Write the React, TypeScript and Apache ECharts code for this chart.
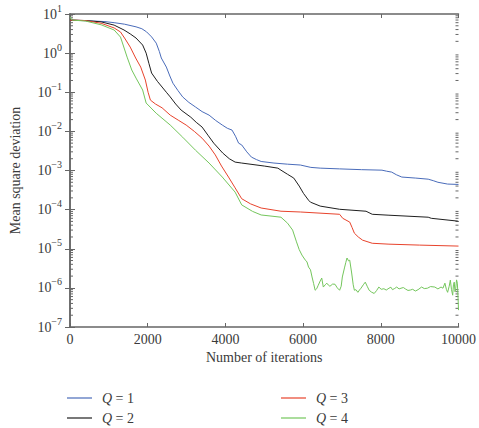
import React, { useEffect, useRef } from "react";
import * as echarts from "echarts";

// Iteration counts and mean square deviation for each Q
const iterQ1 = [0, 300, 600, 900, 1136, 1400, 1700, 1850, 1970, 2100, 2220, 2300, 2350, 2480, 2570, 2650, 2780, 2900, 3060, 3230, 3400, 3580, 3750, 3920, 4050, 4170, 4260, 4340, 4420, 4550, 4670, 4800, 4920, 5250, 5600, 5930, 6200, 6440, 6940, 7500, 8030, 8150, 8280, 8400, 8540, 8900, 9220, 9350, 9470, 9720, 10000];
const msdQ1 = [7.0, 6.8, 6.6, 6.4, 6.0, 5.5, 4.7, 4.2, 3.5, 2.6, 1.8, 1.1, 0.75, 0.44, 0.26, 0.17, 0.11, 0.076, 0.055, 0.042, 0.032, 0.026, 0.019, 0.0145, 0.012, 0.0108, 0.0075, 0.005, 0.0045, 0.003, 0.0022, 0.0019, 0.0017, 0.00155, 0.00145, 0.00138, 0.0012, 0.00115, 0.0011, 0.00105, 0.00102, 0.00096, 0.00091, 0.00078, 0.00068, 0.00064, 0.0006, 0.00055, 0.0005, 0.00045, 0.00044];

const iterQ2 = [0, 400, 800, 1136, 1390, 1550, 1700, 1870, 1960, 2030, 2100, 2250, 2370, 2480, 2580, 2720, 2860, 3110, 3250, 3400, 3550, 3700, 3930, 4100, 4250, 4420, 5000, 5350, 5430, 5600, 5760, 5900, 6010, 6140, 6190, 6440, 6940, 7620, 7780, 8210, 9220, 9300, 9970, 10000];
const msdQ2 = [7.0, 6.8, 6.3, 5.2, 3.9, 3.1, 2.43, 1.61, 1.0, 0.55, 0.31, 0.19, 0.136, 0.1, 0.076, 0.05, 0.035, 0.023, 0.017, 0.0129, 0.008, 0.005, 0.0028, 0.002, 0.00164, 0.00155, 0.0013, 0.00115, 0.00102, 0.0008, 0.00064, 0.0004, 0.00026, 0.000174, 0.000155, 0.000123, 0.000102, 0.000091, 0.000076, 0.000072, 0.000064, 0.00006, 0.000051, 0.00005];

const iterQ3 = [0, 400, 800, 1136, 1300, 1420, 1550, 1690, 1820, 1940, 2010, 2070, 2200, 2370, 2580, 2800, 2990, 3200, 3400, 3580, 3740, 3900, 4080, 4250, 4420, 4650, 4920, 5430, 5930, 6940, 7020, 7200, 7260, 7320, 7420, 7530, 7780, 8210, 9000, 10000];
const msdQ3 = [7.0, 6.8, 5.8, 4.4, 3.47, 2.3, 1.43, 0.75, 0.44, 0.205, 0.1, 0.063, 0.05, 0.04, 0.026, 0.019, 0.0145, 0.01, 0.0067, 0.0042, 0.0025, 0.0013, 0.00068, 0.00036, 0.00019, 0.00014, 0.00011, 0.000091, 0.000087, 0.000076, 0.00006, 0.000048, 0.000035, 0.000025, 0.00002, 0.0000166, 0.0000138, 0.0000131, 0.0000124, 0.0000117];

const iterQ4 = [0, 50, 400, 800, 1136, 1300, 1470, 1590, 1700, 1870, 1960, 2220, 2580, 2900, 3230, 3580, 3920, 4250, 4420, 4700, 4920, 5200, 5430, 5600, 5730, 5830, 5900, 5970, 6020, 6060, 6100, 6140, 6190, 6230, 6270, 6310, 6350, 6390, 6440, 6480, 6520, 6570, 6610, 6650, 6690, 6760, 6820, 6880, 6940, 6980, 7010, 7070, 7100, 7130, 7170, 7200, 7250, 7290, 7320, 7360, 7410, 7450, 7490, 7550, 7600, 7650, 7700, 7760, 7830, 7890, 7950, 8010, 8080, 8140, 8210, 8260, 8300, 8360, 8410, 8470, 8520, 8580, 8640, 8700, 8760, 8820, 8890, 8960, 9050, 9120, 9200, 9280, 9390, 9470, 9550, 9600, 9650, 9690, 9720, 9760, 9790, 9820, 9850, 9870, 9890, 9910, 9930, 9950, 9970, 9985, 10000];
const msdQ4 = [8.5, 7.0, 6.6, 5.3, 3.9, 2.57, 0.79, 0.37, 0.23, 0.114, 0.053, 0.029, 0.0145, 0.0071, 0.0033, 0.00155, 0.00068, 0.00028, 0.000132, 0.00009, 0.000073, 0.000068, 0.000064, 0.000045, 0.00003, 0.000015, 0.0000095, 0.0000069, 0.0000058, 0.0000051, 0.0000046, 0.0000034, 0.0000029, 0.0000019, 0.0000013, 0.00000087, 0.00000095, 0.00000117, 0.0000015, 0.00000178, 0.00000105, 0.0000012, 0.00000132, 0.00000118, 0.0000011, 0.00000125, 0.00000124, 0.000001, 0.00000087, 0.0000011, 0.0000019, 0.0000034, 0.0000045, 0.0000058, 0.0000049, 0.0000051, 0.0000024, 0.0000012, 0.00000087, 0.0000009, 0.00000077, 0.00000088, 0.00000098, 0.0000012, 0.0000014, 0.0000011, 0.00000087, 0.00000078, 0.00000072, 0.00000085, 0.00000105, 0.00000092, 0.00000095, 0.00000088, 0.00000098, 0.00000104, 0.0000009, 0.00000097, 0.00000105, 0.00000094, 0.00000098, 0.00000102, 0.00000093, 0.00000086, 0.00000088, 0.00000092, 0.00000083, 0.0000009, 0.00000105, 0.00000096, 0.00000098, 0.00000108, 0.00000105, 0.00000094, 0.00000105, 0.00000098, 0.00000132, 0.0000009, 0.00000077, 0.0000011, 0.00000158, 0.0000009, 0.00000065, 0.0000012, 0.0000014, 0.0000008, 0.00000098, 0.0000016, 0.00000132, 0.0000007, 0.00000027];

const seriesNames = ["Q = 1", "Q = 2", "Q = 3", "Q = 4"];
const seriesColors = ["#4a6cba", "#1f1f1f", "#e8432c", "#74c65c"];

const xTickInterval = 2000;

// log-spaced minor tick values between decades
const minorTickValues: number[] = [];
for (let d = -7; d < 1; d++) {
  for (let k = 2; k <= 9; k++) minorTickValues.push(k * Math.pow(10, d));
}

const FONT = "'Liberation Serif', 'DejaVu Serif', serif";
const TEXT_COLOR = "#3a3a3a";
const AXIS_COLOR = "#666666";

function pairs(xs: number[], ys: number[]) {
  return xs.map((x, i) => [x, ys[i]]);
}

// one single-entry legend per series, laid out in two columns
function legendFor(name: string, left: number, top: number) {
  return {
    show: true,
    type: "plain",
    orient: "vertical",
    left,
    top,
    data: [name],
    icon: "rect",
    itemWidth: 25,
    itemHeight: 1.2,
    padding: 0,
    textStyle: {
      fontFamily: FONT,
      fontSize: 14,
      color: TEXT_COLOR,
      padding: [0, 0, 0, 5],
      rich: {
        i: { fontFamily: FONT, fontSize: 14, fontStyle: "italic", color: TEXT_COLOR },
      },
    },
    formatter: (n: string) => `{i|Q}${n.slice(1)}`,
  };
}

export default function App() {
  const ref = useRef<HTMLDivElement>(null);

  useEffect(() => {
    if (!ref.current) return;
    const chart = echarts.init(ref.current, null, { renderer: "svg" });

    const superscript = (v: number) => {
      const e = Math.round(Math.log10(v));
      const s = e < 0 ? "\u2212" + Math.abs(e) : String(e);
      return `{b|10}{e|${s}}`;
    };

    const lineData = [
      pairs(iterQ1, msdQ1),
      pairs(iterQ2, msdQ2),
      pairs(iterQ3, msdQ3),
      pairs(iterQ4, msdQ4),
    ];

    chart.setOption({
      animation: false,
      grid: { left: 65, right: 18, top: 14, bottom: 101, containLabel: false },
      legend: [
        legendFor(seriesNames[0], 67, 391),
        legendFor(seriesNames[1], 67, 411),
        legendFor(seriesNames[2], 281, 391),
        legendFor(seriesNames[3], 281, 411),
      ],
      xAxis: [
        {
          type: "value",
          min: 0,
          max: 10000,
          interval: xTickInterval,
          name: "Number of iterations",
          nameLocation: "middle",
          nameGap: 22,
          nameTextStyle: { fontFamily: FONT, fontSize: 14, color: TEXT_COLOR },
          axisLine: { lineStyle: { color: AXIS_COLOR, width: 1.5 } },
          axisTick: { inside: true, length: 4, lineStyle: { color: AXIS_COLOR } },
          axisLabel: {
            fontFamily: FONT,
            fontSize: 14,
            color: TEXT_COLOR,
            margin: 5,
            formatter: (v: number) => String(v),
          },
          splitLine: { show: false },
        },
        {
          type: "value",
          position: "top",
          min: 0,
          max: 10000,
          interval: xTickInterval,
          axisLine: { lineStyle: { color: AXIS_COLOR, width: 1.5 } },
          axisTick: { inside: true, length: 4, lineStyle: { color: AXIS_COLOR } },
          axisLabel: { show: false },
          splitLine: { show: false },
        },
      ],
      yAxis: [
        {
          type: "log",
          logBase: 10,
          min: 1e-7,
          max: 10,
          name: "Mean square deviation",
          nameLocation: "middle",
          nameRotate: 90,
          nameGap: 48,
          nameTextStyle: { fontFamily: FONT, fontSize: 14, color: TEXT_COLOR },
          axisLine: { lineStyle: { color: AXIS_COLOR, width: 1.5 } },
          axisTick: { inside: true, length: 5, lineStyle: { color: AXIS_COLOR } },
          axisLabel: {
            margin: 8,
            formatter: superscript,
            rich: {
              b: { fontFamily: FONT, fontSize: 14, color: TEXT_COLOR, lineHeight: 22, verticalAlign: "middle" },
              e: { fontFamily: FONT, fontSize: 10, color: TEXT_COLOR, lineHeight: 10, verticalAlign: "top" },
            },
          },
          splitLine: { show: false },
        },
        {
          type: "log",
          logBase: 10,
          min: 1e-7,
          max: 10,
          position: "right",
          axisLine: { lineStyle: { color: AXIS_COLOR, width: 1.5 } },
          axisTick: { inside: true, length: 5, lineStyle: { color: AXIS_COLOR } },
          axisLabel: { show: false },
          splitLine: { show: false },
        },
      ],
      series: [
        ...lineData.map((d, i) => ({
          name: seriesNames[i],
          type: "line",
          data: d,
          symbol: "none",
          color: seriesColors[i],
          itemStyle: { color: seriesColors[i] },
          lineStyle: { width: 1, color: seriesColors[i] },
          xAxisIndex: 0,
          yAxisIndex: 0,
        })),
        {
          type: "custom",
          name: "minorTicks",
          xAxisIndex: 0,
          yAxisIndex: 0,
          silent: true,
          data: minorTickValues.map((v) => [0, v]),
          renderItem: (_params: any, api: any) => {
            const v = api.value(1);
            const l = api.coord([0, v]);
            const r = api.coord([10000, v]);
            const style = { stroke: AXIS_COLOR, lineWidth: 1 };
            return {
              type: "group",
              children: [
                { type: "line", shape: { x1: l[0], y1: l[1], x2: l[0] + 3, y2: l[1] }, style },
                { type: "line", shape: { x1: r[0] - 3, y1: r[1], x2: r[0], y2: r[1] }, style },
              ],
            };
          },
        },
      ],
    });

    return () => chart.dispose();
  }, []);

  return (
    <div
      ref={ref}
      style={{ position: "absolute", left: 0, top: 0, width: 479, height: 428 }}
    />
  );
}
